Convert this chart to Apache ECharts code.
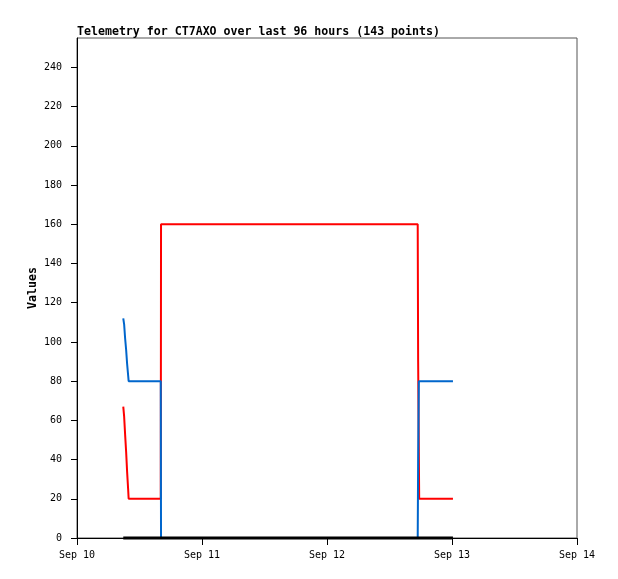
<!DOCTYPE html>
<html>
<head>
<meta charset="utf-8">
<script src="https://cdn.jsdelivr.net/npm/echarts@6/dist/echarts.min.js"></script>
<style>
html,body{margin:0;padding:0;background:#fff;}
#c{width:618px;height:579px;}
</style>
</head>
<body>
<div id="c"></div>
<script>
var titleText = "Telemetry for CT7AXO over last 96 hours (143 points)";
var yTicks = [0,20,40,60,80,100,120,140,160,180,200,220,240];
var xTicks = ["2023-09-10 00:00","2023-09-11 00:00","2023-09-12 00:00","2023-09-13 00:00","2023-09-14 00:00"];

var redTimes = ["2023-09-10 08:53","2023-09-10 09:03","2023-09-10 09:14","2023-09-10 09:26","2023-09-10 09:37","2023-09-10 09:49","2023-09-10 09:55","2023-09-10 16:05","2023-09-10 16:08","2023-09-12 17:25","2023-09-12 17:30","2023-09-12 17:42","2023-09-13 00:11"];
var redValues = [67,62,53,44,34,25,20,20,160,160,90,20,20];

var blueTimes = ["2023-09-10 08:53","2023-09-10 09:03","2023-09-10 09:14","2023-09-10 09:26","2023-09-10 09:37","2023-09-10 09:49","2023-09-10 09:55","2023-09-10 16:05","2023-09-10 16:08","2023-09-12 17:25","2023-09-12 17:30","2023-09-12 17:38","2023-09-13 00:11"];
var blueValues = [112,109,102,96,89,83,80,80,0,0,40,80,80];

var blackTimes = ["2023-09-10 08:53","2023-09-13 00:11"];
var blackValues = [0,0];

function ts(s){ var p = s.split(/[- :]/).map(Number); return new Date(p[0], p[1]-1, p[2], p[3], p[4]).getTime(); }
function pairs(t, v){ return t.map(function(s,i){ return [ts(s), v[i]]; }); }
var months = ["Jan","Feb","Mar","Apr","May","Jun","Jul","Aug","Sep","Oct","Nov","Dec"];
var mono = "'DejaVu Sans Mono', monospace";
var DAY = 86400000;

var chart = echarts.init(document.getElementById('c'), null, {renderer:'canvas'});
chart.setOption({
  animation: false,
  backgroundColor: '#fff',
  title: {
    text: titleText, left: 72, top: 21,
    textStyle: {fontFamily: mono, fontSize: 11.6, fontWeight: 'bold', color: '#000'}
  },
  grid: {left: 77, right: 41, top: 38, bottom: 41, show: true, borderColor: '#555', borderWidth: 1, backgroundColor: 'transparent'},
  xAxis: {
    type: 'time',
    min: ts(xTicks[0]),
    max: ts(xTicks[xTicks.length-1]),
    minInterval: DAY, maxInterval: DAY, splitNumber: xTicks.length - 1,
    splitLine: {show: false},
    axisLine: {show: true, lineStyle: {color: '#000', width: 1}},
    axisTick: {show: true, inside: false, length: 7, lineStyle: {color: '#000'}},
    axisLabel: {
      fontFamily: mono, fontSize: 10, color: '#000', margin: 12, showMinLabel: true, showMaxLabel: true,
      formatter: function(v){ var d = new Date(v); return months[d.getMonth()] + ' ' + d.getDate(); }
    }
  },
  yAxis: {
    type: 'value', min: 0, max: 255, interval: 20,
    name: 'Values', nameLocation: 'middle', nameGap: 38, nameRotate: 90, nameMoveOverlap: false,
    nameTextStyle: {fontFamily: mono, fontSize: 11.6, fontWeight: 'bold', color: '#000'},
    splitLine: {show: false},
    axisLine: {show: true, lineStyle: {color: '#000', width: 1}},
    axisTick: {show: true, inside: false, length: 6, lineStyle: {color: '#000'}, customValues: yTicks},
    axisLabel: {customValues: yTicks, fontFamily: mono, fontSize: 10, color: '#000', margin: 15}
  },
  series: [
    {type: 'line', data: pairs(redTimes, redValues), showSymbol: false, clip: false, lineStyle: {color: '#ff0000', width: 2}, itemStyle: {color: '#ff0000'}, z: 2},
    {type: 'line', data: pairs(blueTimes, blueValues), showSymbol: false, clip: false, lineStyle: {color: '#0066cc', width: 2}, itemStyle: {color: '#0066cc'}, z: 3},
    {type: 'line', data: pairs(blackTimes, blackValues), showSymbol: false, clip: false, lineStyle: {color: '#000000', width: 3}, itemStyle: {color: '#000'}, z: 4}
  ]
});
</script>
</body>
</html>
